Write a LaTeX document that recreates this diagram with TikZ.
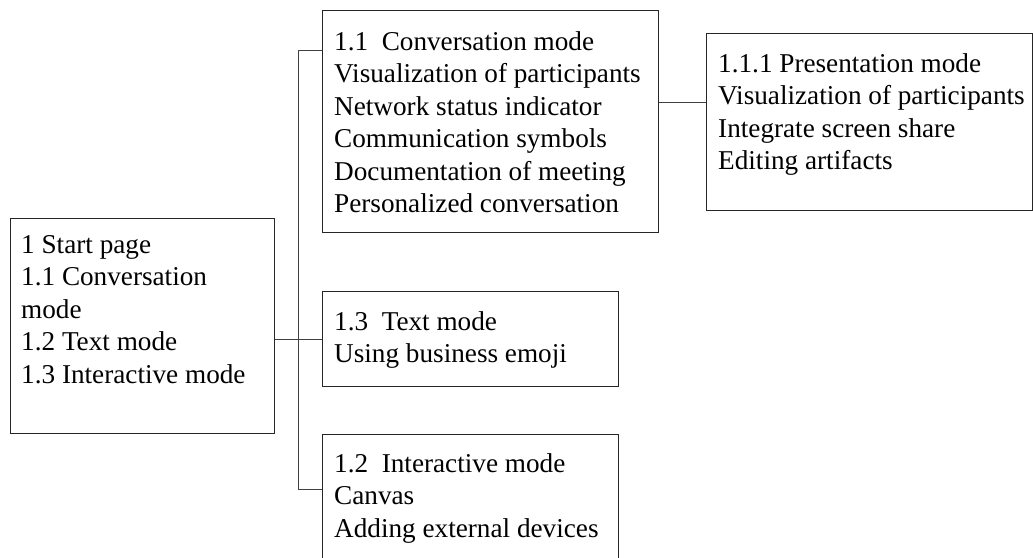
\documentclass[tikz,border=0pt]{standalone}
\usepackage{fontspec}
\setmainfont{Liberation Serif}
\begin{document}
\begin{tikzpicture}[x=1pt,y=-1pt,
  box/.style={draw=black!85, line width=1.1pt, rectangle, inner sep=0pt, anchor=north west},
  txt/.style={anchor=north west, inner sep=0pt, align=left, font=\fontsize{27.2}{32.5}\selectfont, text=black},
  link/.style={draw=black!75, line width=1pt}]
\useasboundingbox (0,0) rectangle (1033,557);
\clip (0,0) rectangle (1033,557);
% boxes
\node[box, minimum width=264pt, minimum height=215pt] (S) at (10,218) {};
\node[box, minimum width=336pt, minimum height=222pt] (A) at (322,10) {};
\node[box, minimum width=326pt, minimum height=177pt] (B) at (706,33) {};
\node[box, minimum width=296pt, minimum height=95pt] (C) at (322,291) {};
\node[box, minimum width=296pt, minimum height=130pt] (D) at (322,434) {};
% texts
\node[txt] (St) at (21,235) {1 Start page\\1.1 Conversation\\mode\\1.2 Text mode\\1.3 Interactive mode};
\node[txt] (At) at (334,31) {1.1~~Conversation mode\\Visualization of participants\\Network status indicator\\Communication symbols\\Documentation of meeting\\Personalized conversation};
\node[txt] (Bt) at (718,53) {1.1.1 Presentation mode\\Visualization of participants\\Integrate screen share\\Editing artifacts};
\node[txt] (Ct) at (334,311) {1.3~~Text mode\\Using business emoji};
\node[txt] (Dt) at (334,453) {1.2~~Interactive mode\\Canvas\\Adding external devices};
% connectors
\coordinate (ja) at (298,50);
\coordinate (jd) at (298,489);
\coordinate (jab) at (682,102);
\draw[link] (ja -| A.west) -- (ja) -- (jd) -- (jd -| D.west);
\draw[link] (S.east |- C.west) -- (C.west);
\draw[link] (jab -| A.east) -- (jab -| B.west);
\end{tikzpicture}
\end{document}
